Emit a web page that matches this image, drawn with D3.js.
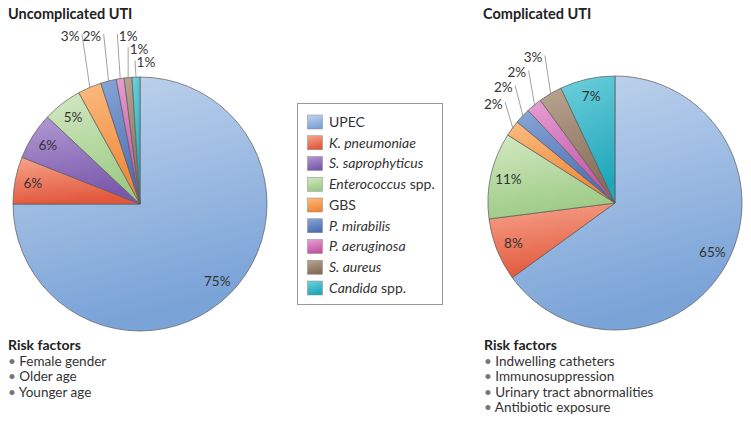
<!DOCTYPE html>
<html><head><meta charset="utf-8">
<script src="https://cdn.jsdelivr.net/npm/d3@7"></script>
<style>
body{margin:0;background:#fff;}
svg{display:block;font-family:Lato,"Open Sans",sans-serif;}
</style>
</head><body>
<svg id="chart" width="751" height="425"></svg>
<script>
// ---------- data ----------
const categories = ["UPEC","K. pneumoniae","S. saprophyticus","Enterococcus spp.","GBS","P. mirabilis","P. aeruginosa","S. aureus","Candida spp."];
const italicParts = ["","K. pneumoniae","S. saprophyticus","Enterococcus","","P. mirabilis","P. aeruginosa","S. aureus","Candida"];
const uncomplicatedValues = [75,6,6,5,3,2,1,1,1];
const complicatedValues   = [65,8,0,11,2,2,2,3,7];
const panelTitles = ["Uncomplicated UTI","Complicated UTI"];
const riskTitle = "Risk factors";
const uncomplicatedRisks = ["Female gender","Older age","Younger age"];
const complicatedRisks = ["Indwelling catheters","Immunosuppression","Urinary tract abnormalities","Antibiotic exposure"];

// ---------- styles ----------
const lightColors = ["#c2d5ee","#f6a48c","#b29ad2","#d3e9c3","#fbbb80","#88a6d8","#e7a0d3","#b9a591","#6fd0dc"];
const darkColors  = ["#7aa3d7","#e2593d","#7a58ad","#9ecb86","#f08838","#4e6fb0","#c156a6","#876e59","#20a7bb"];

// ---------- layout ----------
const panels = [
  {values: uncomplicatedValues, title: panelTitles[0], risks: uncomplicatedRisks,
   cx:140, cy:204, r:127, titleX:8, riskX:8,
   outer:{4:{y:36,dx:-8,side:"left"},5:{y:36,dx:-5,side:"left"},6:{y:36,dx:-3,side:"right"},
          7:{y:49,dx:0,side:"right"},8:{y:62.5,dx:-1,side:"right"}}},
  {values: complicatedValues, title: panelTitles[1], risks: complicatedRisks,
   cx:615, cy:203, r:127, titleX:483, riskX:484,
   outer:{4:{y:104,dx:-8,side:"left"},5:{y:87.5,dx:-8,side:"left"},6:{y:72.5,dx:-6,side:"left"},
          7:{y:57.5,dx:-6,side:"left"}}}
];

const svg = d3.select("#chart");
const defs = svg.append("defs");
categories.forEach((c,i)=>{
  const g = defs.append("linearGradient").attr("id","grad"+i)
    .attr("x1",0).attr("y1",0).attr("x2",0.25).attr("y2",1);
  g.append("stop").attr("offset","0%").attr("stop-color",lightColors[i]);
  g.append("stop").attr("offset","100%").attr("stop-color",darkColors[i]);
});

const textColor = "#333";
const pie = d3.pie().sort(null).value(d=>d.value);

panels.forEach(p=>{
  const data = p.values.map((v,i)=>({value:v, index:i}));
  const arcs = pie(data).filter(a=>a.data.value>0);
  const arc = d3.arc().innerRadius(0).outerRadius(p.r);
  const g = svg.append("g").attr("transform",`translate(${p.cx},${p.cy})`);

  g.selectAll("path.slice").data(arcs).join("path")
    .attr("class","slice")
    .attr("d",arc)
    .attr("fill",d=>`url(#grad${d.data.index})`)
    .attr("stroke","#5a5a5a").attr("stroke-width",0.7).attr("stroke-linejoin","round");

  // inner labels
  const inner = d3.arc().innerRadius(p.r*0.86).outerRadius(p.r*0.86);
  g.selectAll("text.in").data(arcs.filter(a=>a.data.value>=4)).join("text")
    .attr("class","in")
    .attr("transform",d=>`translate(${inner.centroid(d)})`)
    .attr("text-anchor","middle").attr("dy","0.35em")
    .attr("font-size",13.5).attr("fill",textColor)
    .text(d=>d.data.value+"%");

  // outer labels with leader lines
  const outerArcs = arcs.filter(a=>a.data.value<4);
  outerArcs.forEach(a=>{
    const cfg = p.outer[a.data.index];
    const mid = (a.startAngle+a.endAngle)/2;
    const ax = Math.sin(mid)*(p.r-1), ay = -Math.cos(mid)*(p.r-1);
    const tx = ax+cfg.dx, ty = cfg.y - p.cy - 2;
    g.append("path")
      .attr("d",d3.line()([[ax,ay],[tx,ty]]))
      .attr("stroke","#8a8a8a").attr("stroke-width",0.8).attr("fill","none");
    g.append("text")
      .attr("x", cfg.side==="left" ? tx-2.5 : tx+1.5)
      .attr("y", cfg.y - p.cy)
      .attr("dy","0.35em")
      .attr("text-anchor", cfg.side==="left" ? "end" : "start")
      .attr("font-size",13.5).attr("fill",textColor)
      .text(a.data.value+"%");
  });

  // title
  svg.append("text").attr("x",p.titleX).attr("y",19)
    .attr("font-size",14.5).attr("font-weight","bold").attr("fill","#222")
    .text(p.title);

  // risk factors
  svg.append("text").attr("x",p.riskX).attr("y",350)
    .attr("font-size",14).attr("font-weight","bold").attr("fill","#222")
    .text(riskTitle);
  p.risks.forEach((r,i)=>{
    const t = svg.append("text").attr("x",p.riskX).attr("y",366+i*15.4)
      .attr("font-size",13.5).attr("fill",textColor);
    t.append("tspan").attr("fill","#777").text("\u2022 ");
    t.append("tspan").text(r);
  });
});

// legend
const legend = svg.append("g");
legend.append("rect").attr("x",297.5).attr("y",103.5).attr("width",145).attr("height",201)
  .attr("fill","#fff").attr("stroke","#9a9a9a").attr("stroke-width",1);
const legendY = d3.scalePoint().domain(categories).range([122,288]);
categories.forEach((c,i)=>{
  const y = legendY(c);
  legend.append("rect").attr("x",307.5).attr("y",y-7).attr("width",15).attr("height",14)
    .attr("fill",`url(#grad${i})`).attr("stroke","#8a8a8a").attr("stroke-width",0.5);
  const t = legend.append("text").attr("x",329).attr("y",y).attr("dy","0.35em")
    .attr("font-size",14).attr("fill",textColor);
  const it = italicParts[i];
  if (it && c.startsWith(it)) {
    t.append("tspan").attr("font-style","italic").text(it);
    const rest = c.slice(it.length);
    if (rest) t.append("tspan").text(rest);
  } else {
    t.text(c);
  }
});
</script>
</body></html>
